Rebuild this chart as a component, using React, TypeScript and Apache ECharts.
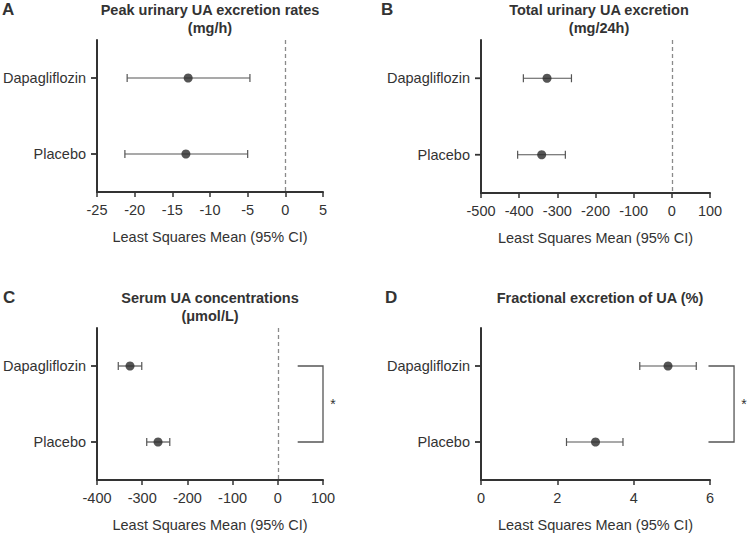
import React, { useEffect, useRef } from "react";
import * as echarts from "echarts";

const categories = ["Dapagliflozin", "Placebo"];

const titlesText = [
  "Peak urinary UA excretion rates\n(mg/h)",
  "Total urinary UA excretion\n(mg/24h)",
  "Serum UA concentrations\n(μmol/L)",
  "Fractional excretion of UA (%)",
];
const panelLetters = ["A", "B", "C", "D"];
const axisName = "Least Squares Mean (95% CI)";

// Panel A
const meanA = [-12.9, -13.2];
const lowA = [-21.0, -21.3];
const highA = [-4.7, -5.0];
// Panel B
const meanB = [-327, -341];
const lowB = [-389, -404];
const highB = [-263, -279];
// Panel C
const meanC = [-327, -265];
const lowC = [-353, -290];
const highC = [-301, -239];
// Panel D
const meanD = [4.9, 3.0];
const lowD = [4.16, 2.24];
const highD = [5.64, 3.72];

const axisMin = [-25, -500, -400, 0];
const axisMax = [5, 100, 100, 6];
const axisInterval = [5, 100, 100, 2];
const showZeroLine = [true, true, true, false];

// significance brackets: [panelIndex, fromX, toX, starX]
const brackets = [
  [2, 44, 100, 122],
  [3, 5.96, 6.63, 6.89],
];

const FONT = "'Liberation Sans', Arial, Helvetica, sans-serif";
const TEXT = "#333333";

const grids = [
  { left: 95, top: 40, width: 228, height: 152 },
  { left: 481, top: 40, width: 229, height: 153 },
  { left: 95, top: 328, width: 228, height: 154 },
  { left: 481, top: 328, width: 229, height: 154 },
];
const titlePos = [
  { x: 210, y: 1 },
  { x: 599, y: 1 },
  { x: 210, y: 289 },
  { x: 600, y: 289 },
];
const letterPos = [
  { x: 2, y: 0 },
  { x: 381, y: 0 },
  { x: 3, y: 288 },
  { x: 385, y: 288 },
];

const means = [meanA, meanB, meanC, meanD];
const lows = [lowA, lowB, lowC, lowD];
const highs = [highA, highB, highC, highD];

function buildOption() {
  const xAxis: any[] = [];
  const yAxis: any[] = [];
  const series: any[] = [];
  const title: any[] = [];

  grids.forEach((g, i) => {
    xAxis.push({
      gridIndex: i,
      type: "value",
      min: axisMin[i],
      max: axisMax[i],
      interval: axisInterval[i],
      name: axisName,
      nameLocation: "middle",
      nameGap: 37,
      nameTextStyle: { fontFamily: FONT, fontSize: 14.5, color: TEXT },
      splitLine: { show: false },
      axisLine: { show: true, onZero: false, lineStyle: { color: TEXT, width: 2 } },
      axisTick: { show: true, length: 5, lineStyle: { color: TEXT, width: 1.5 } },
      axisLabel: { fontFamily: FONT, fontSize: 14.5, color: TEXT, margin: 10 },
    });
    yAxis.push({
      gridIndex: i,
      type: "category",
      data: categories,
      inverse: true,
      axisLine: { show: true, onZero: false, lineStyle: { color: TEXT, width: 2 } },
      axisTick: { show: false },
      axisLabel: { fontFamily: FONT, fontSize: 14.5, color: TEXT, margin: 11 },
      splitLine: { show: false },
    });

    // error bars + y-axis category ticks
    series.push({
      type: "custom",
      xAxisIndex: i,
      yAxisIndex: i,
      clip: false,
      encode: { x: [0, 1], y: 2 },
      data: categories.map((_, k) => [lows[i][k], highs[i][k], k]),
      renderItem: (params: any, api: any) => {
        const c = api.value(2);
        const p1 = api.coord([api.value(0), c]);
        const p2 = api.coord([api.value(1), c]);
        const ax = api.coord([axisMin[i], c]);
        const cap = 4;
        const st = { stroke: "#555555", lineWidth: 1.2 };
        return {
          type: "group",
          children: [
            { type: "line", shape: { x1: p1[0], y1: p1[1], x2: p2[0], y2: p2[1] }, style: st },
            { type: "line", shape: { x1: p1[0], y1: p1[1] - cap, x2: p1[0], y2: p1[1] + cap }, style: st },
            { type: "line", shape: { x1: p2[0], y1: p2[1] - cap, x2: p2[0], y2: p2[1] + cap }, style: st },
            {
              type: "line",
              shape: { x1: ax[0] - 6, y1: ax[1], x2: ax[0], y2: ax[1] },
              style: { stroke: TEXT, lineWidth: 1.8 },
            },
          ],
        };
      },
      silent: true,
      z: 2,
    });

    // points
    series.push({
      type: "scatter",
      xAxisIndex: i,
      yAxisIndex: i,
      data: categories.map((_, k) => [means[i][k], k]),
      symbol: "circle",
      symbolSize: 9,
      itemStyle: { color: "#2a2a2a" },
      z: 3,
      markLine: showZeroLine[i]
        ? {
            silent: true,
            symbol: "none",
            label: { show: false },
            lineStyle: { color: "#8a8a8a", type: [4, 3], width: 1.3 },
            data: [{ xAxis: 0 }],
          }
        : undefined,
    });

    title.push({
      text: titlesText[i],
      left: titlePos[i].x,
      top: titlePos[i].y,
      textAlign: "center",
      padding: 0,
      textStyle: {
        fontFamily: FONT,
        fontSize: 14.5,
        fontWeight: "bold",
        color: TEXT,
        lineHeight: 18,
      },
    });
    title.push({
      text: panelLetters[i],
      left: letterPos[i].x,
      top: letterPos[i].y,
      padding: 0,
      textStyle: { fontFamily: FONT, fontSize: 17, fontWeight: "bold", color: TEXT, lineHeight: 18 },
    });
  });

  brackets.forEach((b) => {
    const i = b[0];
    series.push({
      type: "custom",
      xAxisIndex: i,
      yAxisIndex: i,
      clip: false,
      encode: { x: [0, 1, 2] },
      data: [[b[1], b[2], b[3]]],
      renderItem: (params: any, api: any) => {
        const a0 = api.coord([api.value(0), 0]);
        const a1 = api.coord([api.value(1), 0]);
        const b0 = api.coord([api.value(0), 1]);
        const b1 = api.coord([api.value(1), 1]);
        const s = api.coord([api.value(2), 0]);
        const sy = (a1[1] + b1[1]) / 2;
        const st = { stroke: "#555555", lineWidth: 1.3, fill: null };
        return {
          type: "group",
          children: [
            {
              type: "polyline",
              shape: { points: [[a0[0], a0[1]], [a1[0], a1[1]], [b1[0], b1[1]], [b0[0], b0[1]]] },
              style: st,
            },
            {
              type: "text",
              x: s[0],
              y: sy,
              style: {
                text: "*",
                fontFamily: FONT,
                fontSize: 14,
                fill: TEXT,
                align: "center",
                verticalAlign: "middle",
              },
            },
          ],
        };
      },
      silent: true,
    });
  });

  return {
    animation: false,
    backgroundColor: "#ffffff",
    title,
    grid: grids.map((g) => ({ ...g, containLabel: false })),
    xAxis,
    yAxis,
    series,
  };
}

export default function App() {
  const ref = useRef<HTMLDivElement>(null);
  useEffect(() => {
    if (!ref.current) return;
    const chart = echarts.init(ref.current, undefined, { renderer: "svg" });
    chart.setOption(buildOption() as any);
    return () => chart.dispose();
  }, []);
  return (
    <div
      ref={ref}
      style={{ position: "fixed", left: 0, top: 0, width: 748, height: 533, background: "#fff" }}
    />
  );
}
